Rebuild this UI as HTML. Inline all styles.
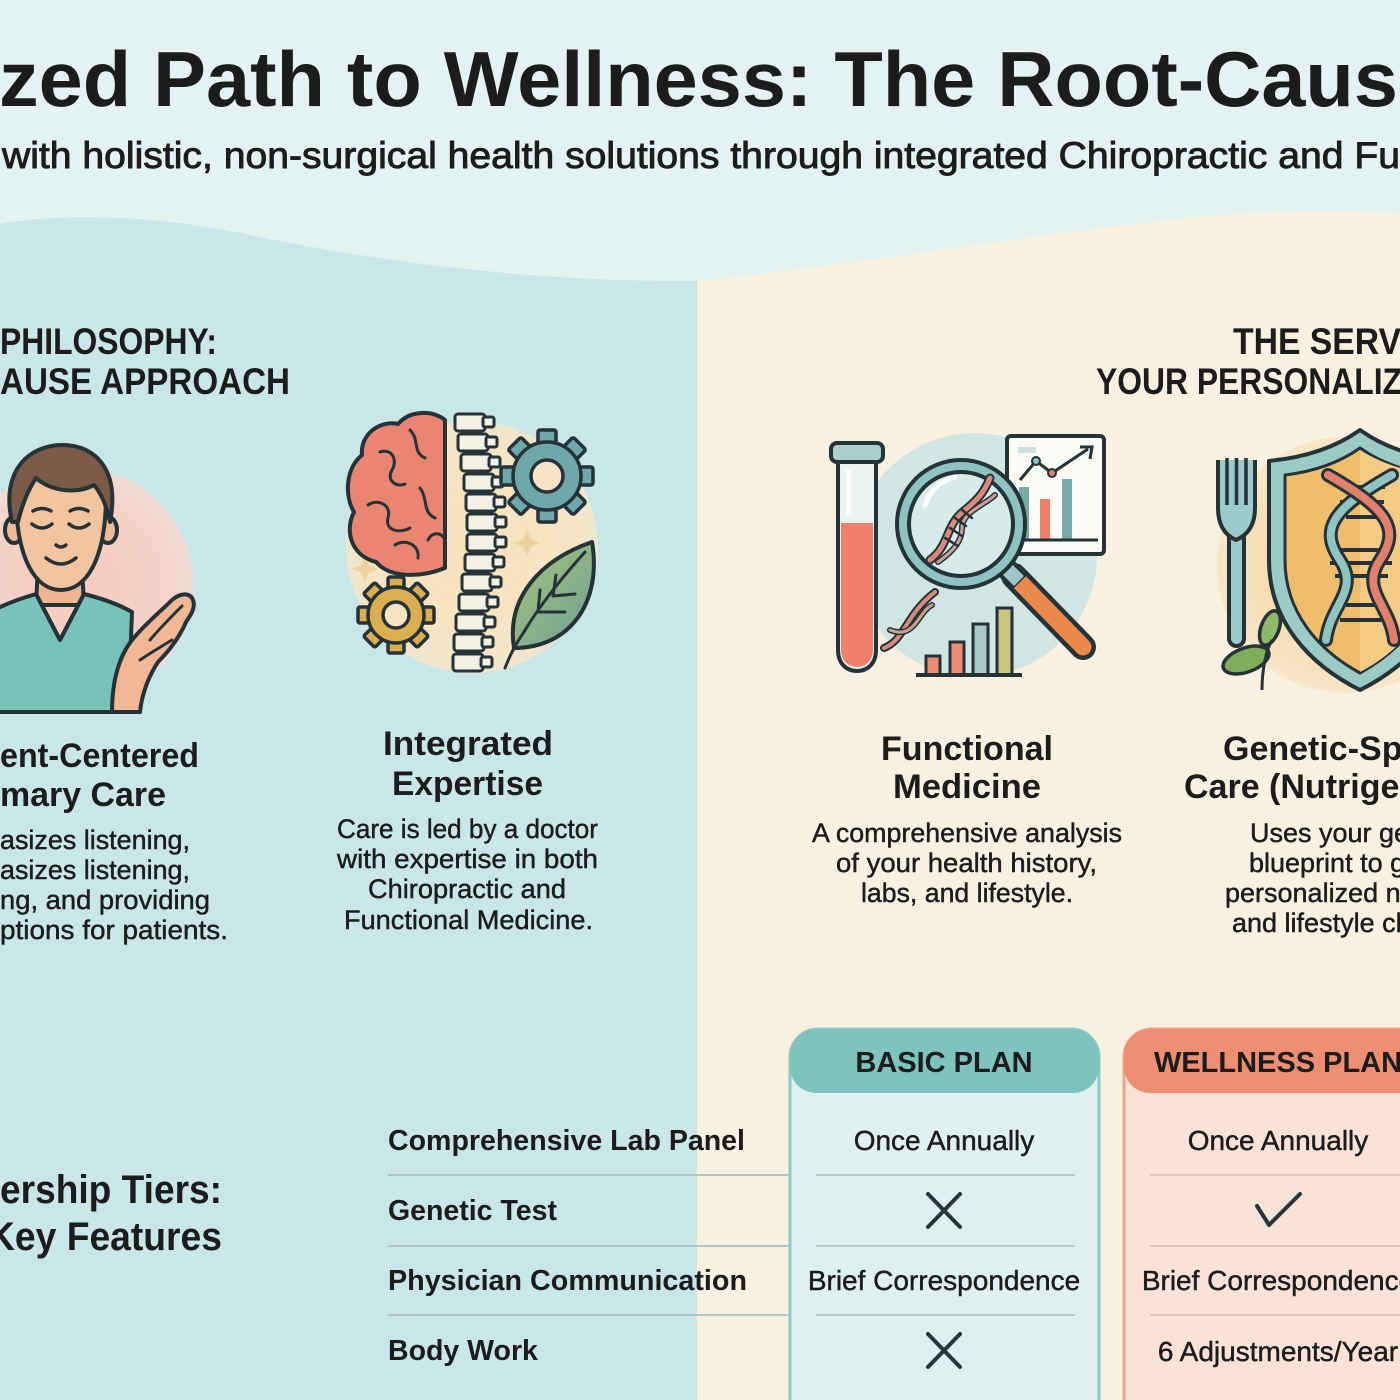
<!DOCTYPE html>
<html>
<head>
<meta charset="utf-8">
<style>
  html,body{margin:0;padding:0;width:1400px;height:1400px;overflow:hidden;background:#e4f2f1;}
  svg{display:block;}
  text{font-family:"Liberation Sans", Arial, sans-serif; fill:#1c1c1c;}
  .med{stroke:#1c1c1c;stroke-width:0.45;}
</style>
</head>
<body>
<svg width="1400" height="1400" viewBox="0 0 1400 1400" xmlns="http://www.w3.org/2000/svg">
  <defs>
    <radialGradient id="pinkg" cx="0.5" cy="0.5" r="0.5">
      <stop offset="0" stop-color="#f6cbbd"/>
      <stop offset="0.8" stop-color="#f4d3c8"/>
      <stop offset="1" stop-color="#efdcd6"/>
    </radialGradient>
    <radialGradient id="creamg" cx="0.5" cy="0.5" r="0.5">
      <stop offset="0" stop-color="#f8e2bb"/>
      <stop offset="0.85" stop-color="#f5e5c6"/>
      <stop offset="1" stop-color="#eee6cf"/>
    </radialGradient>
    <radialGradient id="peachg" cx="0.5" cy="0.5" r="0.5">
      <stop offset="0" stop-color="#f3cf92"/>
      <stop offset="1" stop-color="#f7e6c8"/>
    </radialGradient>
    <linearGradient id="leafg" x1="0" y1="0" x2="1" y2="1">
      <stop offset="0" stop-color="#a8c57a"/>
      <stop offset="1" stop-color="#6e9f95"/>
    </linearGradient>
  </defs>

  <!-- backgrounds -->
  <rect x="0" y="0" width="1400" height="1400" fill="#e4f2f1"/>
  <path d="M0,224 C60,213 150,214 250,235 C400,266 550,282 697,281 L697,1400 L0,1400 Z" fill="#c9e6e9"/>
  <path d="M697,281 C900,260 1100,222 1250,213 C1320,209 1370,211 1400,214 L1400,1400 L697,1400 Z" fill="#f9f1df"/>

  <!-- title -->
  <text x="-1" y="106" font-size="78" font-weight="700" textLength="1443" lengthAdjust="spacingAndGlyphs">zed Path to Wellness: The Root-Cause</text>
  <text x="2" y="168" font-size="37" stroke="#1c1c1c" stroke-width="0.9" textLength="1398" lengthAdjust="spacingAndGlyphs">with holistic, non-surgical health solutions through integrated Chiropractic and Fu</text>

  <!-- section headings -->
  <text x="0" y="354" font-size="37" font-weight="700" textLength="217" lengthAdjust="spacingAndGlyphs">PHILOSOPHY:</text>
  <text x="0" y="394" font-size="37" font-weight="700" textLength="290" lengthAdjust="spacingAndGlyphs">AUSE APPROACH</text>
  <text x="1233" y="354" font-size="37" font-weight="700" textLength="168" lengthAdjust="spacingAndGlyphs">THE SERV</text>
  <text x="1096" y="394" font-size="37" font-weight="700" textLength="306" lengthAdjust="spacingAndGlyphs">YOUR PERSONALIZ</text>

  <!-- ===== Person illustration ===== -->
  <circle cx="75" cy="585" r="118" fill="url(#pinkg)"/>
  <path d="M-6,645 C8,650 20,672 20,712 L-6,712 Z" fill="#f0b995" stroke="#253238" stroke-width="4"/>
  <path d="M38,565 L82,565 L84,605 L36,605 Z" fill="#eeb592" stroke="#253238" stroke-width="4"/>
  <path d="M-10,612 C5,604 22,598 36,594 L60,640 L84,594 C100,598 118,604 132,612 L128,712 L-10,712 Z" fill="#79c2b8" stroke="#253238" stroke-width="4" stroke-linejoin="round"/>
  <path d="M36,594 L60,640 L84,594" fill="none" stroke="#253238" stroke-width="4" stroke-linejoin="round"/>
  <ellipse cx="14" cy="530" rx="9" ry="13" fill="#f0bb98" stroke="#253238" stroke-width="4"/>
  <ellipse cx="108" cy="530" rx="9" ry="13" fill="#f0bb98" stroke="#253238" stroke-width="4"/>
  <path d="M16,495 C16,560 36,590 61,590 C86,590 106,560 106,495 C106,468 16,468 16,495 Z" fill="#f3c4a0" stroke="#253238" stroke-width="4"/>
  <path d="M12,522 C0,470 30,445 62,445 C96,445 120,470 110,522 C106,502 100,492 94,485 C78,494 52,492 36,478 C28,490 22,505 18,522 Z" fill="#7b5a47" stroke="#253238" stroke-width="4" stroke-linejoin="round"/>
  <g fill="none" stroke="#253238" stroke-width="3.5" stroke-linecap="round">
    <path d="M33,511 Q42,506 51,511"/>
    <path d="M70,511 Q79,506 88,511"/>
    <path d="M32,524 Q42,532 52,524"/>
    <path d="M69,524 Q79,532 89,524"/>
    <path d="M56,545 Q61,549 66,545"/>
    <path d="M46,558 Q61,570 76,558"/>
  </g>
  <path d="M112,712 C112,682 118,658 132,640 C145,624 160,612 172,600 C180,593 190,592 193,600 C196,608 190,616 186,622 C180,636 170,650 158,662 C150,674 142,692 140,712 Z" fill="#f2b896" stroke="#253238" stroke-width="4" stroke-linejoin="round"/>
  <g fill="none" stroke="#253238" stroke-width="3" stroke-linecap="round">
    <path d="M150,640 C160,628 170,618 182,606"/>
    <path d="M140,660 C152,652 162,646 172,640"/>
  </g>

  <!-- ===== Brain / spine illustration ===== -->
  <circle cx="472" cy="547" r="126" fill="url(#creamg)"/>
  <path d="M365,556 l4,9 l9,4 l-9,4 l-4,9 l-4,-9 l-9,-4 l9,-4 Z" fill="#ecd3a0"/>
  <path d="M527,530 l4,9 l9,4 l-9,4 l-4,9 l-4,-9 l-9,-4 l9,-4 Z" fill="#ecd3a0"/>
  <path d="M445,420 C432,410 410,410 398,424 C380,420 360,434 362,455 C346,468 344,495 354,512 C344,532 352,556 376,562 C390,578 420,578 445,568 Z" fill="#ea8571" stroke="#253238" stroke-width="4" stroke-linejoin="round"/>
  <g fill="none" stroke="#253238" stroke-width="3" stroke-linecap="round">
    <path d="M410,430 C420,440 412,452 425,458"/>
    <path d="M380,452 C392,448 398,460 392,470 C386,480 396,488 405,484"/>
    <path d="M368,505 C378,498 392,505 388,518 C385,530 398,534 410,528"/>
    <path d="M420,488 C428,498 422,512 435,518"/>
    <path d="M395,545 C405,538 420,545 418,558"/>
    <path d="M428,540 C432,532 440,532 444,538"/>
  </g>
  <!-- spine -->
  <g fill="#f3f0e4" stroke="#253238" stroke-width="3">
    <rect x="455" y="414" width="30" height="17" rx="3"/><rect x="483" y="417" width="11" height="10" rx="2"/>
    <rect x="458" y="434" width="30" height="17" rx="3"/><rect x="486" y="437" width="11" height="10" rx="2"/>
    <rect x="461" y="454" width="30" height="17" rx="3"/><rect x="489" y="457" width="11" height="10" rx="2"/>
    <rect x="464" y="474" width="30" height="17" rx="3"/><rect x="492" y="477" width="11" height="10" rx="2"/>
    <rect x="466" y="494" width="30" height="17" rx="3"/><rect x="494" y="497" width="11" height="10" rx="2"/>
    <rect x="467" y="514" width="30" height="17" rx="3"/><rect x="495" y="517" width="11" height="10" rx="2"/>
    <rect x="467" y="534" width="30" height="17" rx="3"/><rect x="495" y="537" width="11" height="10" rx="2"/>
    <rect x="465" y="554" width="30" height="17" rx="3"/><rect x="493" y="557" width="11" height="10" rx="2"/>
    <rect x="462" y="574" width="30" height="17" rx="3"/><rect x="490" y="577" width="11" height="10" rx="2"/>
    <rect x="459" y="594" width="30" height="17" rx="3"/><rect x="487" y="597" width="11" height="10" rx="2"/>
    <rect x="456" y="614" width="30" height="17" rx="3"/><rect x="484" y="617" width="11" height="10" rx="2"/>
    <rect x="454" y="634" width="30" height="17" rx="3"/><rect x="482" y="637" width="11" height="10" rx="2"/>
    <rect x="453" y="654" width="30" height="17" rx="3"/><rect x="481" y="657" width="11" height="10" rx="2"/>
  </g>
  <!-- teal gear -->
  <g fill="#6fa8aa" stroke="#253238" stroke-width="3.5">
    <rect x="538" y="430" width="18" height="16" rx="2" transform="rotate(0 547 476)"/>
    <rect x="538" y="430" width="18" height="16" rx="2" transform="rotate(45 547 476)"/>
    <rect x="538" y="430" width="18" height="16" rx="2" transform="rotate(90 547 476)"/>
    <rect x="538" y="430" width="18" height="16" rx="2" transform="rotate(135 547 476)"/>
    <rect x="538" y="430" width="18" height="16" rx="2" transform="rotate(180 547 476)"/>
    <rect x="538" y="430" width="18" height="16" rx="2" transform="rotate(225 547 476)"/>
    <rect x="538" y="430" width="18" height="16" rx="2" transform="rotate(270 547 476)"/>
    <rect x="538" y="430" width="18" height="16" rx="2" transform="rotate(315 547 476)"/>
    <circle cx="547" cy="476" r="34"/>
  </g>
  <circle cx="547" cy="476" r="16" fill="#f6e4c4" stroke="#253238" stroke-width="3.5"/>
  <!-- gold gear -->
  <g fill="#dcae52" stroke="#253238" stroke-width="3.5">
    <rect x="388" y="577" width="16" height="14" rx="2" transform="rotate(0 396 615)"/>
    <rect x="388" y="577" width="16" height="14" rx="2" transform="rotate(45 396 615)"/>
    <rect x="388" y="577" width="16" height="14" rx="2" transform="rotate(90 396 615)"/>
    <rect x="388" y="577" width="16" height="14" rx="2" transform="rotate(135 396 615)"/>
    <rect x="388" y="577" width="16" height="14" rx="2" transform="rotate(180 396 615)"/>
    <rect x="388" y="577" width="16" height="14" rx="2" transform="rotate(225 396 615)"/>
    <rect x="388" y="577" width="16" height="14" rx="2" transform="rotate(270 396 615)"/>
    <rect x="388" y="577" width="16" height="14" rx="2" transform="rotate(315 396 615)"/>
    <circle cx="396" cy="615" r="28"/>
  </g>
  <circle cx="396" cy="615" r="13" fill="#f6e4c4" stroke="#253238" stroke-width="3.5"/>
  <!-- leaf -->
  <path d="M514,648 C506,598 540,560 592,542 C602,600 572,648 514,648 Z" fill="url(#leafg)" stroke="#253238" stroke-width="4" stroke-linejoin="round"/>
  <g fill="none" stroke="#253238" stroke-width="3" stroke-linecap="round">
    <path d="M505,668 C510,655 515,645 522,635 C540,605 560,580 585,552"/>
    <path d="M538,612 L540,590"/>
    <path d="M553,596 L556,575"/>
    <path d="M538,612 L565,612"/>
    <path d="M553,596 L575,594"/>
  </g>

  <!-- ===== Functional medicine icon ===== -->
  <circle cx="975" cy="555" r="122" fill="#d0e6e3"/>
  <path d="M838,456 L876,456 L876,650 C876,663 868,671 857,671 C846,671 838,663 838,650 Z" fill="#eef3ef" stroke="#253238" stroke-width="4"/>
  <path d="M841,523 L873,523 L873,650 C873,660 866,667 857,667 C848,667 841,660 841,650 Z" fill="#ef806b"/>
  <rect x="846" y="470" width="5" height="45" fill="#ffffff" opacity="0.8"/>
  <rect x="831" y="443" width="52" height="19" rx="6" fill="#a9d0cf" stroke="#253238" stroke-width="4"/>
  <rect x="1007" y="436" width="97" height="118" rx="4" fill="#fbfaf4" stroke="#253238" stroke-width="4"/>
  <rect x="1018" y="447" width="18" height="6" fill="#cfe0dd"/>
  <rect x="1019" y="487" width="10" height="52" fill="#78aaa8"/>
  <rect x="1040" y="499" width="10" height="40" fill="#ee806a"/>
  <rect x="1062" y="479" width="10" height="60" fill="#78aaa8"/>
  <line x1="1014" y1="540" x2="1098" y2="540" stroke="#253238" stroke-width="3"/>
  <polyline points="1020,480 1036,461 1052,473 1088,449" fill="none" stroke="#253238" stroke-width="3"/>
  <path d="M1080,447 L1092,447 L1090,459" fill="none" stroke="#253238" stroke-width="3"/>
  <circle cx="1036" cy="461" r="4" fill="#8fc3c3" stroke="#253238" stroke-width="2"/>
  <circle cx="1052" cy="473" r="4" fill="#e0806e" stroke="#253238" stroke-width="2"/>
  <rect x="926" y="656" width="14" height="19" fill="#ee8b74" stroke="#253238" stroke-width="3"/>
  <rect x="950" y="642" width="14" height="33" fill="#ee8b74" stroke="#253238" stroke-width="3"/>
  <rect x="973" y="624" width="15" height="51" fill="#a7c8c6" stroke="#253238" stroke-width="3"/>
  <rect x="997" y="608" width="15" height="67" fill="#c9c47e" stroke="#253238" stroke-width="3"/>
  <line x1="916" y1="675" x2="1022" y2="675" stroke="#253238" stroke-width="4"/>
  <g fill="none" stroke-linecap="round">
    <path d="M884,648 C905,640 905,615 935,592" stroke="#253238" stroke-width="8"/>
    <path d="M884,648 C905,640 905,615 935,592" stroke="#d98a7a" stroke-width="4"/>
    <path d="M890,630 C915,640 918,612 932,605" stroke="#253238" stroke-width="6"/>
    <path d="M890,630 C915,640 918,612 932,605" stroke="#caa090" stroke-width="3"/>
  </g>
  <line x1="1014" y1="576" x2="1083" y2="647" stroke="#253238" stroke-width="26" stroke-linecap="round"/>
  <line x1="1014" y1="576" x2="1083" y2="647" stroke="#e78a4c" stroke-width="17" stroke-linecap="round"/>
  <line x1="1004" y1="566" x2="1020" y2="582" stroke="#253238" stroke-width="22"/>
  <line x1="1005" y1="567" x2="1019" y2="581" stroke="#9cc6c5" stroke-width="14"/>
  <circle cx="961" cy="524" r="64" fill="#8fc3c2" stroke="#253238" stroke-width="4"/>
  <circle cx="961" cy="524" r="52" fill="#d6ebea" stroke="#253238" stroke-width="4"/>
  <path d="M925,505 C930,490 942,480 955,477" fill="none" stroke="#ffffff" stroke-width="5" stroke-linecap="round" opacity="0.9"/>
  <g fill="none" stroke-linecap="round">
    <path d="M930,560 C950,545 945,525 965,510 C980,498 985,490 990,478" stroke="#253238" stroke-width="9"/>
    <path d="M930,560 C950,545 945,525 965,510 C980,498 985,490 990,478" stroke="#d98a7a" stroke-width="5"/>
    <path d="M938,562 C955,550 962,540 962,528 C962,512 985,505 995,495" stroke="#253238" stroke-width="6"/>
    <path d="M938,562 C955,550 962,540 962,528 C962,512 985,505 995,495" stroke="#cba397" stroke-width="3"/>
    <g stroke="#253238" stroke-width="2.5">
      <line x1="945" y1="538" x2="958" y2="546"/>
      <line x1="950" y1="528" x2="962" y2="536"/>
      <line x1="955" y1="518" x2="966" y2="526"/>
      <line x1="962" y1="510" x2="972" y2="518"/>
    </g>
  </g>

  <!-- ===== Shield / fork icon ===== -->
  <circle cx="1345" cy="565" r="128" fill="url(#peachg)"/>
  <path d="M1360,430 C1332,450 1300,458 1269,461 L1269,560 C1269,620 1308,664 1360,690 C1412,664 1451,620 1451,560 L1451,461 C1420,458 1388,450 1360,430 Z" fill="#9ccbc7" stroke="#253238" stroke-width="4" stroke-linejoin="round"/>
  <path d="M1360,448 C1336,465 1310,472 1285,475 L1285,560 C1285,612 1318,650 1360,673 C1402,650 1435,612 1435,560 L1435,475 C1410,472 1384,465 1360,448 Z" fill="#eebe6c" stroke="#253238" stroke-width="3" stroke-linejoin="round"/>
  <path d="M1360,450 L1360,672 C1402,650 1435,612 1435,560 L1435,475 C1410,472 1384,465 1360,450 Z" fill="#f3cb84"/>
  <g stroke="#253238" stroke-width="4">
    <line x1="1338" y1="487" x2="1385" y2="487"/>
    <line x1="1340" y1="502" x2="1384" y2="502"/>
    <line x1="1346" y1="517" x2="1378" y2="517"/>
    <line x1="1335" y1="550" x2="1388" y2="550"/>
    <line x1="1330" y1="563" x2="1392" y2="563"/>
    <line x1="1335" y1="576" x2="1388" y2="576"/>
    <line x1="1346" y1="605" x2="1378" y2="605"/>
    <line x1="1340" y1="620" x2="1384" y2="620"/>
  </g>
  <g fill="none" stroke-linecap="round">
    <path d="M1392,475 C1330,510 1320,530 1340,560 C1360,590 1330,605 1326,640" stroke="#253238" stroke-width="14"/>
    <path d="M1392,475 C1330,510 1320,530 1340,560 C1360,590 1330,605 1326,640" stroke="#8fc4c1" stroke-width="8"/>
    <path d="M1328,475 C1390,510 1400,530 1380,560 C1360,590 1390,605 1394,640" stroke="#253238" stroke-width="14"/>
    <path d="M1328,475 C1390,510 1400,530 1380,560 C1360,590 1390,605 1394,640" stroke="#e2806e" stroke-width="8"/>
  </g>
  <rect x="1229" y="530" width="15" height="116" rx="7.5" fill="#9ccbcb" stroke="#253238" stroke-width="4"/>
  <path d="M1218,460 L1218,508 Q1218,532 1236,540 Q1255,532 1255,508 L1255,460" fill="#9ccbcb" stroke="#253238" stroke-width="4" stroke-linejoin="round"/>
  <g stroke="#253238" stroke-width="3.5">
    <line x1="1227" y1="458" x2="1227" y2="505"/>
    <line x1="1236.5" y1="458" x2="1236.5" y2="505"/>
    <line x1="1246" y1="458" x2="1246" y2="505"/>
  </g>
  <ellipse cx="1246" cy="660" rx="24" ry="12" transform="rotate(-20 1246 660)" fill="#7fae5a" stroke="#253238" stroke-width="3.5"/>
  <ellipse cx="1270" cy="628" rx="9" ry="18" transform="rotate(20 1270 628)" fill="#8dba66" stroke="#253238" stroke-width="3.5"/>
  <path d="M1262,690 C1262,670 1266,650 1272,640" fill="none" stroke="#253238" stroke-width="3"/>

  <!-- ===== Column texts ===== -->
  <text x="0" y="767" font-size="34" font-weight="700" textLength="199" lengthAdjust="spacingAndGlyphs">ent-Centered</text>
  <text x="0" y="806" font-size="34" font-weight="700" textLength="166" lengthAdjust="spacingAndGlyphs">mary Care</text>
  <g font-size="27" class="med">
    <text x="0" y="849" textLength="190" lengthAdjust="spacingAndGlyphs">asizes listening,</text>
    <text x="0" y="879" textLength="190" lengthAdjust="spacingAndGlyphs">asizes listening,</text>
    <text x="0" y="909" textLength="210" lengthAdjust="spacingAndGlyphs">ng, and providing</text>
    <text x="0" y="939" textLength="228" lengthAdjust="spacingAndGlyphs">ptions for patients.</text>
  </g>

  <text x="383" y="755" font-size="34" font-weight="700" textLength="170" lengthAdjust="spacingAndGlyphs">Integrated</text>
  <text x="392" y="795" font-size="34" font-weight="700" textLength="151" lengthAdjust="spacingAndGlyphs">Expertise</text>
  <g font-size="27" class="med">
    <text x="337" y="838" textLength="261" lengthAdjust="spacingAndGlyphs">Care is led by a doctor</text>
    <text x="337" y="868" textLength="261" lengthAdjust="spacingAndGlyphs">with expertise in both</text>
    <text x="368" y="898" textLength="198" lengthAdjust="spacingAndGlyphs">Chiropractic and</text>
    <text x="344" y="929" textLength="249" lengthAdjust="spacingAndGlyphs">Functional Medicine.</text>
  </g>

  <text x="881" y="760" font-size="34" font-weight="700" textLength="172" lengthAdjust="spacingAndGlyphs">Functional</text>
  <text x="893" y="798" font-size="34" font-weight="700" textLength="148" lengthAdjust="spacingAndGlyphs">Medicine</text>
  <g font-size="27" class="med">
    <text x="812" y="842" textLength="310" lengthAdjust="spacingAndGlyphs">A comprehensive analysis</text>
    <text x="836" y="872" textLength="261" lengthAdjust="spacingAndGlyphs">of your health history,</text>
    <text x="861" y="902" textLength="212" lengthAdjust="spacingAndGlyphs">labs, and lifestyle.</text>
  </g>

  <text x="1223" y="760" font-size="34" font-weight="700">Genetic-Specific</text>
  <text x="1184" y="798" font-size="34" font-weight="700">Care (Nutrigenomics)</text>
  <g font-size="27" class="med">
    <text x="1250" y="842">Uses your genetic</text>
    <text x="1249" y="872">blueprint to guide</text>
    <text x="1225" y="902">personalized nutrition</text>
    <text x="1232" y="932">and lifestyle choices.</text>
  </g>

  <!-- ===== Membership tiers ===== -->
  <text x="0" y="1203" font-size="40" font-weight="700" textLength="222" lengthAdjust="spacingAndGlyphs">ership Tiers:</text>
  <text x="-12" y="1250" font-size="40" font-weight="700" textLength="234" lengthAdjust="spacingAndGlyphs">Key Features</text>

  <g font-size="28.5" font-weight="700">
    <text x="388" y="1150" textLength="357" lengthAdjust="spacingAndGlyphs">Comprehensive Lab Panel</text>
    <text x="388" y="1220">Genetic Test</text>
    <text x="388" y="1290" textLength="359" lengthAdjust="spacingAndGlyphs">Physician Communication</text>
    <text x="388" y="1360">Body Work</text>
  </g>
  <g stroke="#aec6c8" stroke-width="2">
    <line x1="388" y1="1175" x2="789" y2="1175"/>
    <line x1="388" y1="1246" x2="789" y2="1246"/>
    <line x1="388" y1="1315" x2="789" y2="1315"/>
  </g>

  <!-- Basic plan card -->
  <rect x="790" y="1029" width="309" height="420" rx="28" fill="#dff0f0" stroke="#8ccbc7" stroke-width="3"/>
  <rect x="790" y="1029" width="309" height="64" rx="26" fill="#7fc3bf"/>
  <text x="944" y="1072" font-size="29" font-weight="700" text-anchor="middle">BASIC PLAN</text>
  <g font-size="28" text-anchor="middle" class="med">
    <text x="944" y="1150">Once Annually</text>
    <text x="944" y="1290">Brief Correspondence</text>
  </g>
  <g stroke="#b5cccd" stroke-width="2">
    <line x1="816" y1="1175" x2="1075" y2="1175"/>
    <line x1="816" y1="1246" x2="1075" y2="1246"/>
    <line x1="816" y1="1315" x2="1075" y2="1315"/>
  </g>
  <g stroke="#27363c" stroke-width="4" stroke-linecap="round">
    <line x1="928" y1="1194" x2="960" y2="1227"/>
    <line x1="960" y1="1194" x2="928" y2="1227"/>
    <line x1="928" y1="1334" x2="960" y2="1367"/>
    <line x1="960" y1="1334" x2="928" y2="1367"/>
  </g>

  <!-- Wellness plan card -->
  <rect x="1124" y="1029" width="330" height="420" rx="28" fill="#fbe2d6" stroke="#efa48c" stroke-width="3"/>
  <rect x="1124" y="1029" width="330" height="64" rx="26" fill="#ee8f74"/>
  <text x="1278" y="1072" font-size="29" font-weight="700" text-anchor="middle">WELLNESS PLAN</text>
  <g font-size="28" text-anchor="middle" class="med">
    <text x="1278" y="1150">Once Annually</text>
    <text x="1278" y="1290">Brief Correspondence</text>
    <text x="1278" y="1361">6 Adjustments/Year</text>
  </g>
  <g stroke="#dcc6bb" stroke-width="2">
    <line x1="1150" y1="1175" x2="1400" y2="1175"/>
    <line x1="1150" y1="1246" x2="1400" y2="1246"/>
    <line x1="1150" y1="1315" x2="1400" y2="1315"/>
  </g>
  <polyline points="1257,1206 1269,1225 1300,1194" fill="none" stroke="#27363c" stroke-width="4" stroke-linecap="round" stroke-linejoin="round"/>
</svg>
</body>
</html>
